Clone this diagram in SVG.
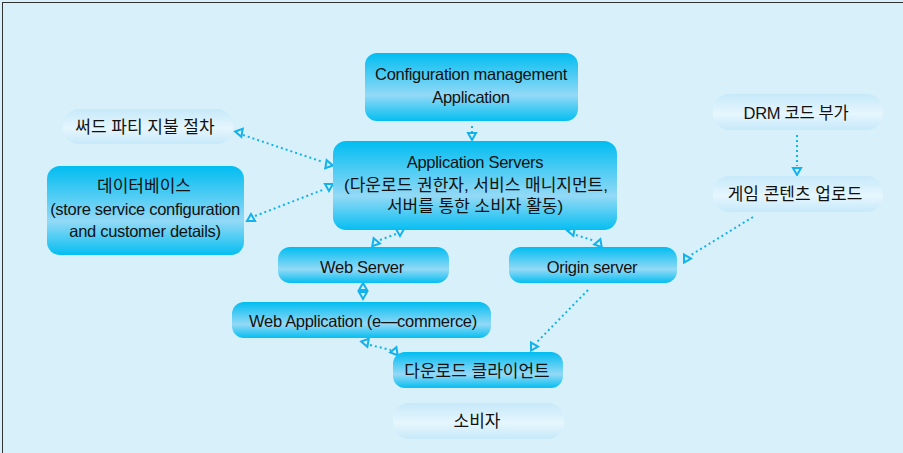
<svg xmlns="http://www.w3.org/2000/svg" width="903" height="453" viewBox="0 0 903 453">
<defs>
<linearGradient id="gStrong" x1="0" y1="0" x2="0" y2="1">
<stop offset="0" stop-color="#00BDF1"/>
<stop offset="0.62" stop-color="#93D9F6"/>
<stop offset="1" stop-color="#05BEF1"/>
</linearGradient>
<linearGradient id="gPale" x1="0" y1="0" x2="0" y2="1">
<stop offset="0" stop-color="#C6E9FA"/>
<stop offset="0.55" stop-color="#E6F6FD"/>
<stop offset="1" stop-color="#C6E9FA"/>
</linearGradient>
<path id="tri" d="M-4,-3 L4,-3 L0,4 Z" fill="#D8F0FA" stroke="#12B2EC" stroke-width="2" stroke-linejoin="miter"/>
</defs>
<style>
.strong{fill:url(#gStrong);}
.pale{fill:url(#gPale);}
text{font-family:"Liberation Sans","Noto Sans CJK KR",sans-serif;font-size:16.5px;letter-spacing:-0.3px;fill:#111;text-anchor:middle;}
text.ko{font-size:17px;letter-spacing:0;}
.ln{fill:none;stroke:#12B2EC;stroke-width:2;stroke-dasharray:2 3;}
</style>
<rect x="0" y="0" width="903" height="453" fill="#D8F0FA"/>
<rect x="2.5" y="2.5" width="910" height="460" fill="none" stroke="#333" stroke-width="1"/>

<g id="connectors">
<line class="ln" x1="472" y1="126" x2="472" y2="132"/>
<use href="#tri" transform="translate(472,136)"/>
<line class="ln" x1="243" y1="135" x2="323" y2="162"/>
<use href="#tri" transform="translate(240,133) rotate(-20)"/>
<use href="#tri" transform="translate(328,164) rotate(160)"/>
<line class="ln" x1="255" y1="216" x2="325" y2="189"/>
<use href="#tri" transform="translate(251,218) rotate(180)"/>
<use href="#tri" transform="translate(329,187)"/>
<line class="ln" x1="380" y1="240" x2="396" y2="234"/>
<use href="#tri" transform="translate(375,242) rotate(160)"/>
<use href="#tri" transform="translate(400,232)"/>
<line class="ln" x1="576" y1="235" x2="595" y2="241"/>
<use href="#tri" transform="translate(572,232) rotate(-20)"/>
<use href="#tri" transform="translate(599,243) rotate(200)"/>
<line class="ln" x1="797" y1="135" x2="797" y2="166"/>
<use href="#tri" transform="translate(797,171)"/>
<line class="ln" x1="753" y1="217" x2="691" y2="255"/>
<use href="#tri" transform="translate(686,258) rotate(150)"/>
<use href="#tri" transform="translate(363,287) rotate(180)"/>
<use href="#tri" transform="translate(363,295)"/>
<line class="ln" x1="370" y1="345" x2="391" y2="350"/>
<use href="#tri" transform="translate(366,343) rotate(-20)"/>
<use href="#tri" transform="translate(395,351) rotate(200)"/>
<line class="ln" x1="588" y1="290" x2="537" y2="342"/>
<use href="#tri" transform="translate(533,346) rotate(150)"/>
</g>

<g id="config">
<rect class="strong" x="365" y="53" width="213" height="68" rx="12"/>
<text x="471" y="80">Configuration management</text>
<text x="471" y="103">Application</text>
</g>
<g id="appservers">
<rect class="strong" x="333" y="141" width="284" height="89" rx="13"/>
<text x="475" y="168">Application Servers</text>
<text class="ko" x="476" y="191">(다운로드 권한자, 서비스 매니지먼트,</text>
<text class="ko" x="475" y="212">서버를 통한 소비자 활동)</text>
</g>
<g id="thirdparty">
<rect class="pale" x="63" y="109" width="170" height="35" rx="16"/>
<text class="ko" x="145" y="133">써드 파티 지불 절차</text>
</g>
<g id="database">
<rect class="strong" x="47" y="166" width="197" height="89" rx="13"/>
<text class="ko" x="144" y="192">데이터베이스</text>
<text x="145" y="215">(store service configuration</text>
<text x="145" y="237">and customer details)</text>
</g>
<g id="drm">
<rect class="pale" x="713" y="94" width="170" height="36" rx="16"/>
<text x="796" y="119">DRM 코드 부가</text>
</g>
<g id="upload">
<rect class="pale" x="713" y="176" width="170" height="36" rx="16"/>
<text class="ko" x="795" y="200">게임 콘텐츠 업로드</text>
</g>
<g id="webserver">
<rect class="strong" x="278" y="247" width="171" height="36" rx="12"/>
<text x="362" y="273">Web Server</text>
</g>
<g id="origin">
<rect class="strong" x="509" y="247" width="168" height="36" rx="12"/>
<text x="592" y="273">Origin server</text>
</g>
<g id="webapp">
<rect class="strong" x="232" y="302" width="259" height="36" rx="12"/>
<text x="363" y="327">Web Application (e—commerce)</text>
</g>
<g id="client">
<rect class="strong" x="393" y="352" width="170" height="36" rx="12"/>
<text class="ko" x="477" y="377">다운로드 클라이언트</text>
</g>
<g id="consumer">
<rect class="pale" x="393" y="403" width="171" height="36" rx="16"/>
<text class="ko" x="477" y="427">소비자</text>
</g>
</svg>
